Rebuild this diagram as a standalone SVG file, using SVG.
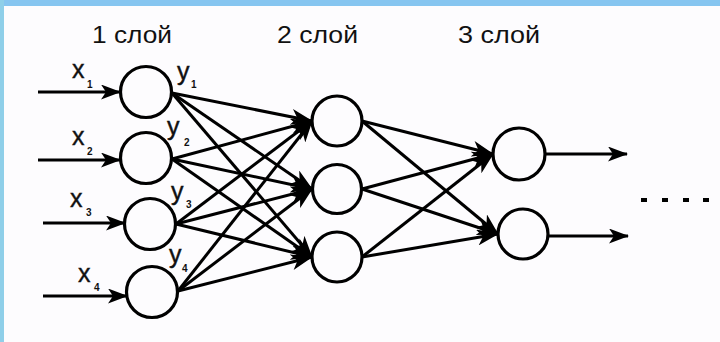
<svg xmlns="http://www.w3.org/2000/svg" width="720" height="342" viewBox="0 0 720 342">
<style>
.n{fill:none;stroke:#000;stroke-width:3.2}
.c{stroke:#000;stroke-width:3;fill:none}
.in{stroke:#000;stroke-width:3.2;fill:none}
.t{font-family:"Liberation Sans",Arial,sans-serif;font-size:23px;fill:#111}
.v{font-family:"Liberation Sans",Arial,sans-serif;font-size:25px;fill:#111;stroke:#111;stroke-width:0.4}
.s{font-family:"Liberation Sans",Arial,sans-serif;font-size:10px;font-weight:bold;fill:#111}
</style>
<defs>
<marker id="ah" viewBox="0 0 22 16" refX="21" refY="8" markerWidth="22" markerHeight="16" orient="auto" markerUnits="userSpaceOnUse">
<path d="M0,0 L22,8 L0,16 L6,8 Z" fill="#000"/>
</marker>
<marker id="ai" viewBox="0 0 20 15" refX="19" refY="7.5" markerWidth="20" markerHeight="15" orient="auto" markerUnits="userSpaceOnUse">
<path d="M0,0 L20,7.5 L0,15 L5,7.5 Z" fill="#000"/>
</marker>
</defs>
<rect width="720" height="342" fill="#fdfcfe"/>
<rect x="0" y="0" width="720" height="6" fill="#86c5f0"/>
<rect x="0" y="0" width="4" height="342" fill="#8fcfe9"/>

<g id="titles">
<text class="t" x="92" y="43" textLength="80" lengthAdjust="spacingAndGlyphs">1 слой</text>
<text class="t" x="277" y="43" textLength="81" lengthAdjust="spacingAndGlyphs">2 слой</text>
<text class="t" x="458" y="43" textLength="82" lengthAdjust="spacingAndGlyphs">3 слой</text>
</g>

<g id="connectors">
<line class="in" x1="38" y1="92" x2="120" y2="92" marker-end="url(#ai)"/>
<line class="in" x1="38" y1="160" x2="120" y2="160" marker-end="url(#ai)"/>
<line class="in" x1="43" y1="223" x2="125" y2="223" marker-end="url(#ai)"/>
<line class="in" x1="43" y1="296" x2="127" y2="296" marker-end="url(#ai)"/>

<line class="c" x1="172" y1="93" x2="312" y2="121" marker-end="url(#ah)"/>
<line class="c" x1="172" y1="93" x2="312" y2="189" marker-end="url(#ah)"/>
<line class="c" x1="172" y1="93" x2="312" y2="257" marker-end="url(#ah)"/>
<line class="c" x1="172" y1="159" x2="312" y2="121" marker-end="url(#ah)"/>
<line class="c" x1="172" y1="159" x2="312" y2="189" marker-end="url(#ah)"/>
<line class="c" x1="172" y1="159" x2="312" y2="257" marker-end="url(#ah)"/>
<line class="c" x1="176" y1="224" x2="312" y2="121" marker-end="url(#ah)"/>
<line class="c" x1="176" y1="224" x2="312" y2="189" marker-end="url(#ah)"/>
<line class="c" x1="176" y1="224" x2="312" y2="257" marker-end="url(#ah)"/>
<line class="c" x1="178" y1="291" x2="312" y2="121" marker-end="url(#ah)"/>
<line class="c" x1="178" y1="291" x2="312" y2="189" marker-end="url(#ah)"/>
<line class="c" x1="178" y1="291" x2="312" y2="257" marker-end="url(#ah)"/>

<line class="c" x1="362" y1="121" x2="493" y2="154" marker-end="url(#ah)"/>
<line class="c" x1="362" y1="121" x2="498" y2="234" marker-end="url(#ah)"/>
<line class="c" x1="362" y1="189" x2="493" y2="154" marker-end="url(#ah)"/>
<line class="c" x1="362" y1="189" x2="498" y2="234" marker-end="url(#ah)"/>
<line class="c" x1="362" y1="257" x2="493" y2="154" marker-end="url(#ah)"/>
<line class="c" x1="362" y1="257" x2="498" y2="234" marker-end="url(#ah)"/>

<line class="in" x1="545" y1="154" x2="627" y2="154" marker-end="url(#ai)"/>
<line class="in" x1="548" y1="236" x2="628" y2="236" marker-end="url(#ai)"/>
</g>

<g id="n1"><circle class="n" cx="146" cy="92" r="25.5"/></g>
<g id="n2"><circle class="n" cx="146" cy="158" r="25.5"/></g>
<g id="n3"><circle class="n" cx="150" cy="224" r="25.5"/></g>
<g id="n4"><circle class="n" cx="152" cy="292" r="25.5"/></g>
<g id="n5"><circle class="n" cx="337" cy="121" r="25"/></g>
<g id="n6"><circle class="n" cx="337" cy="189" r="24.5"/></g>
<g id="n7"><circle class="n" cx="337" cy="257" r="25"/></g>
<g id="n8"><circle class="n" cx="519" cy="154" r="26"/></g>
<g id="n9"><circle class="n" cx="523" cy="234" r="25"/></g>

<g id="labels">
<text class="v" x="72" y="78">x</text><text class="s" x="87" y="88">1</text>
<text class="v" x="177" y="80">y</text><text class="s" x="191" y="88">1</text>
<text class="v" x="72" y="145">x</text><text class="s" x="87" y="155">2</text>
<text class="v" x="167" y="135">y</text><text class="s" x="184" y="146">2</text>
<text class="v" x="70" y="207">x</text><text class="s" x="86" y="216">3</text>
<text class="v" x="171" y="200">y</text><text class="s" x="186" y="208">3</text>
<text class="v" x="78" y="282">x</text><text class="s" x="94" y="291">4</text>
<text class="v" x="169" y="263">y</text><text class="s" x="182" y="272">4</text>
</g>

<g id="dots" fill="#000">
<rect x="641" y="198" width="6" height="4"/>
<rect x="662" y="198" width="6" height="4"/>
<rect x="683" y="198" width="6" height="4"/>
<rect x="703" y="198" width="6" height="4"/>
</g>
</svg>
